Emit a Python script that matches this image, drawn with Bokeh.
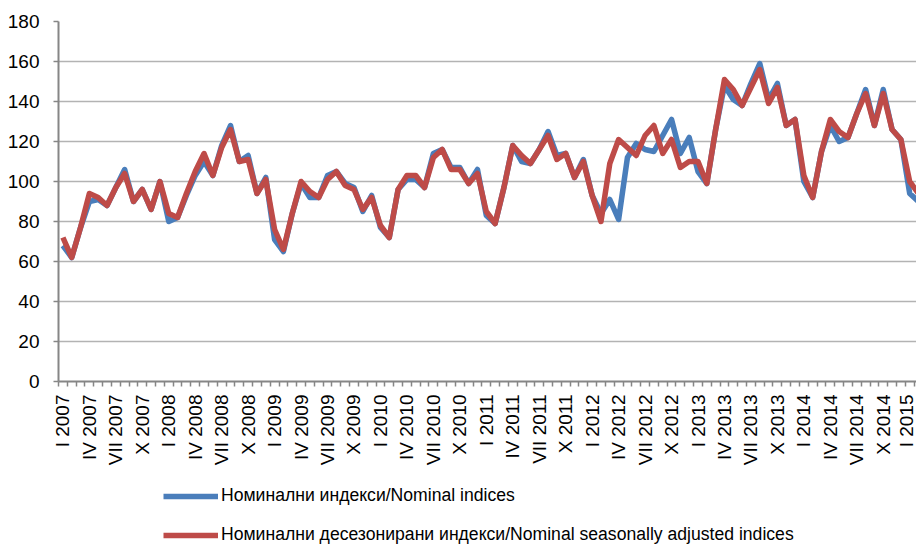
import numpy as np
from bokeh.plotting import figure
from bokeh.layouts import column
from bokeh.models import FixedTicker, Range1d, Legend, LegendItem
from bokeh.embed import file_html
from bokeh.resources import INLINE

# ---- data -------------------------------------------------------------
months = ["I", "II", "III", "IV", "V", "VI", "VII", "VIII", "IX", "X", "XI", "XII"]
years = [2007, 2008, 2009, 2010, 2011, 2012, 2013, 2014, 2015]
periods = [f"{m} {y}" for y in years for m in months][:98]

nominal = [
    68, 62, 77, 90, 91, 88, 97, 106, 90, 96, 86, 100,      # 2007
    80, 82, 93, 103, 110, 103, 118, 128, 110, 113, 94, 102,  # 2008
    71, 65, 84, 99, 92, 92, 103, 105, 99, 97, 85, 93,       # 2009
    77, 72, 96, 101, 101, 97, 114, 116, 107, 107, 99, 106,  # 2010
    83, 79, 97, 118, 110, 109, 116, 125, 113, 114, 102, 111,  # 2011
    93, 84, 91, 81, 112, 119, 116, 115, 123, 131, 114, 122,  # 2012
    105, 99, 126, 148, 141, 138, 149, 159, 141, 149, 128, 131,  # 2013
    100, 92, 115, 128, 120, 122, 134, 146, 128, 146, 126, 121,  # 2014
    94, 90,                                                  # 2015
]
seasonal = [
    72, 62, 77, 94, 92, 88, 97, 104, 90, 96, 86, 100,
    84, 82, 94, 105, 114, 103, 117, 126, 110, 111, 94, 101,
    76, 66, 84, 100, 95, 92, 101, 105, 98, 96, 86, 92,
    78, 72, 96, 103, 103, 97, 112, 116, 106, 106, 99, 104,
    85, 79, 97, 118, 113, 109, 116, 123, 111, 114, 102, 110,
    93, 80, 109, 121, 117, 113, 123, 128, 114, 121, 107, 110,
    110, 99, 126, 151, 146, 138, 147, 156, 139, 147, 128, 131,
    103, 92, 115, 131, 125, 122, 134, 144, 128, 144, 126, 121,
    100, 94,
]
y_ticks = [0, 20, 40, 60, 80, 100, 120, 140, 160, 180]
series_names = ["Номинални индекси/Nominal indices",
                "Номинални десезонирани индекси/Nominal seasonally adjusted indices"]

# ---- main chart -------------------------------------------------------
FONT = "Liberation Sans"
BLUE = "#4a7ebb"
RED = "#be4b48"
idx = list(range(len(periods)))

p = figure(width=916, height=475, output_backend="svg", toolbar_location=None,
           x_range=Range1d(-0.5, 96.77), y_range=Range1d(0, 180),
           min_border_left=58, min_border_top=21, min_border_right=0,
           min_border_bottom=94)
p.outline_line_color = None
p.background_fill_color = "white"
p.border_fill_color = "white"

p.xgrid.visible = False
p.ygrid.grid_line_color = "#b3b3b3"
p.ygrid.grid_line_width = 1.5

ax = p.yaxis[0]
ax.ticker = FixedTicker(ticks=y_ticks)
ax.axis_line_color = "#868686"
ax.axis_line_width = 2
ax.major_tick_line_color = "#868686"
ax.major_tick_line_width = 1.5
ax.major_tick_out = 5
ax.major_tick_in = 0
ax.minor_tick_out = 0
ax.minor_tick_in = 0
ax.major_label_text_font = FONT
ax.major_label_text_font_size = "19px"
ax.major_label_text_color = "black"
ax.major_label_standoff = 14

bx = p.xaxis[0]
bx.ticker = FixedTicker(ticks=list(range(0, len(periods), 3)),
                        minor_ticks=[i - 0.5 for i in range(len(periods) + 1)])
bx.major_label_overrides = {i: periods[i] for i in range(0, len(periods), 3)}
bx.major_label_orientation = np.pi / 2
bx.axis_line_color = "#868686"
bx.axis_line_width = 2
bx.major_tick_out = 0
bx.major_tick_in = 0
bx.minor_tick_out = 5
bx.minor_tick_in = 0
bx.minor_tick_line_color = "#868686"
bx.minor_tick_line_width = 1.5
bx.major_label_text_font = FONT
bx.major_label_text_font_size = "19px"
bx.major_label_text_color = "black"
bx.major_label_standoff = 8

p.line(idx, nominal, line_color=BLUE, line_width=5.5, line_join="round")
p.line(idx, seasonal, line_color=RED, line_width=5.5, line_join="round")

# ---- legend strip (same series, drawn off-range so only the legend shows)
leg = figure(width=916, height=69, output_backend="svg", toolbar_location=None,
             x_range=Range1d(1000, 1001), y_range=Range1d(1000, 1001),
             x_axis_location=None, y_axis_location=None,
             min_border_left=0, min_border_top=0, min_border_right=0,
             min_border_bottom=0)
leg.grid.visible = False
leg.outline_line_color = None
leg.background_fill_color = "white"
leg.border_fill_color = "white"
lr1 = leg.line(idx, nominal, line_color=BLUE, line_width=5.5)
lr2 = leg.line(idx, seasonal, line_color=RED, line_width=5.5)

legend = Legend(items=[LegendItem(label=series_names[0], renderers=[lr1]),
                       LegendItem(label=series_names[1], renderers=[lr2])],
                location=(105, -1), orientation="vertical",
                glyph_width=55, glyph_height=20, label_height=20, label_width=10,
                spacing=18, padding=0, margin=0, label_standoff=3,
                border_line_color=None, background_fill_alpha=0,
                label_text_font=FONT, label_text_font_size="17.6px",
                label_text_color="black")
leg.add_layout(legend, "center")

layout = column(p, leg, spacing=0)
open("out.html", "w").write(file_html(layout, INLINE))
